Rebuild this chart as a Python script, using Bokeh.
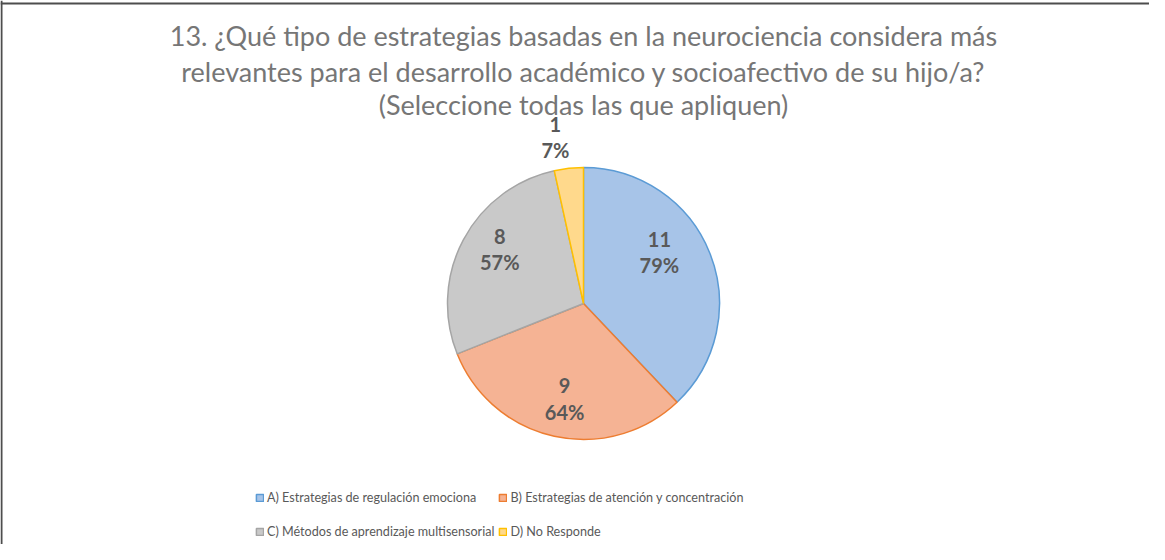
import math
from bokeh.plotting import figure
from bokeh.models import Range1d, Span, Legend, LegendItem, ColumnDataSource
from bokeh.core.properties import value
from bokeh.embed import file_html
from bokeh.resources import INLINE

# ---- data ----
title_lines = [
    "13. ¿Qué tipo de estrategias basadas en la neurociencia considera más",
    "relevantes para el desarrollo académico y socioafectivo de su hijo/a?",
    "(Seleccione todas las que apliquen)",
]
categories = [
    "A) Estrategias de regulación emociona",
    "B) Estrategias de atención y concentración",
    "C) Métodos de aprendizaje multisensorial",
    "D) No Responde",
]
counts = [11, 9, 8, 1]
respondents = 14

# ---- styles ----
fill_colors = ["#A7C4E8", "#F5B394", "#C9C9C9", "#FFD98C"]
line_colors = ["#5B9BD5", "#ED7D31", "#A5A5A5", "#FFC000"]
W, H = 1149, 544
cx, cy, R = 583, 241, 136
label_r = [0.68, 0.68, 0.68, 1.23]
label_nudge = [(-10, 17), (1, -5), (-2, 11), (-10, 0)]

total = sum(counts)
starts, ends, mids = [], [], []
acc = 0.0
for c in counts:
    a0 = math.pi / 2 - 2 * math.pi * acc / total
    acc += c
    a1 = math.pi / 2 - 2 * math.pi * acc / total
    starts.append(a0)
    ends.append(a1)
    mids.append((a0 + a1) / 2)

pct = [f"{round(100 * c / respondents)}%" for c in counts]
lx = [cx + label_r[i] * R * math.cos(mids[i]) + label_nudge[i][0] for i in range(len(counts))]
ly = [cy + label_r[i] * R * math.sin(mids[i]) + label_nudge[i][1] for i in range(len(counts))]

src = ColumnDataSource(dict(
    start=starts, end=ends, fill=fill_colors, line=line_colors, cat=categories,
))

p = figure(width=W, height=H, output_backend="svg", toolbar_location=None,
           x_range=Range1d(0, W), y_range=Range1d(0, H), min_border=0)
p.xaxis.visible = False
p.yaxis.visible = False
p.grid.visible = False
p.outline_line_color = None
p.background_fill_color = "white"
p.border_fill_color = "white"

# chart frame lines (top / left)
p.add_layout(Span(location=1, dimension="height", line_color="#4D4D4D", line_width=2))
p.add_layout(Span(location=H - 3, dimension="width", line_color="#4D4D4D", line_width=2))

r = p.wedge(x=cx, y=cy, radius=R, start_angle="start", end_angle="end",
            direction="clock", fill_color="fill", line_color="line",
            line_width=1.5, source=src)

# title
p.text(x=[cx] * 3, y=[509, 473, 440], text=title_lines, text_align="center",
       text_baseline="middle", text_font=value("Lato"), text_font_size="27px",
       text_color="#767676")

# data labels
p.text(x=lx, y=[v + 13 for v in ly], text=[str(c) for c in counts],
       text_align="center", text_baseline="middle", text_font=value("Lato"),
       text_font_style="bold", text_font_size="20px", text_color="#595959")
p.text(x=lx, y=[v - 13 for v in ly], text=pct,
       text_align="center", text_baseline="middle", text_font=value("Lato"),
       text_font_style="bold", text_font_size="20px", text_color="#595959")

items = [LegendItem(label=categories[i], renderers=[r], index=i) for i in range(len(categories))]
legend = Legend(items=items, orientation="horizontal", nrows=2,
                location=(255, -2), border_line_color=None, background_fill_alpha=0,
                label_text_font="Lato", label_text_font_size="12.6px",
                label_text_color="#595959", glyph_width=9, glyph_height=9,
                label_height=30, spacing=4, label_standoff=3, padding=4, margin=0)
p.add_layout(legend, "center")

open("out.html", "w").write(file_html(p, INLINE))
